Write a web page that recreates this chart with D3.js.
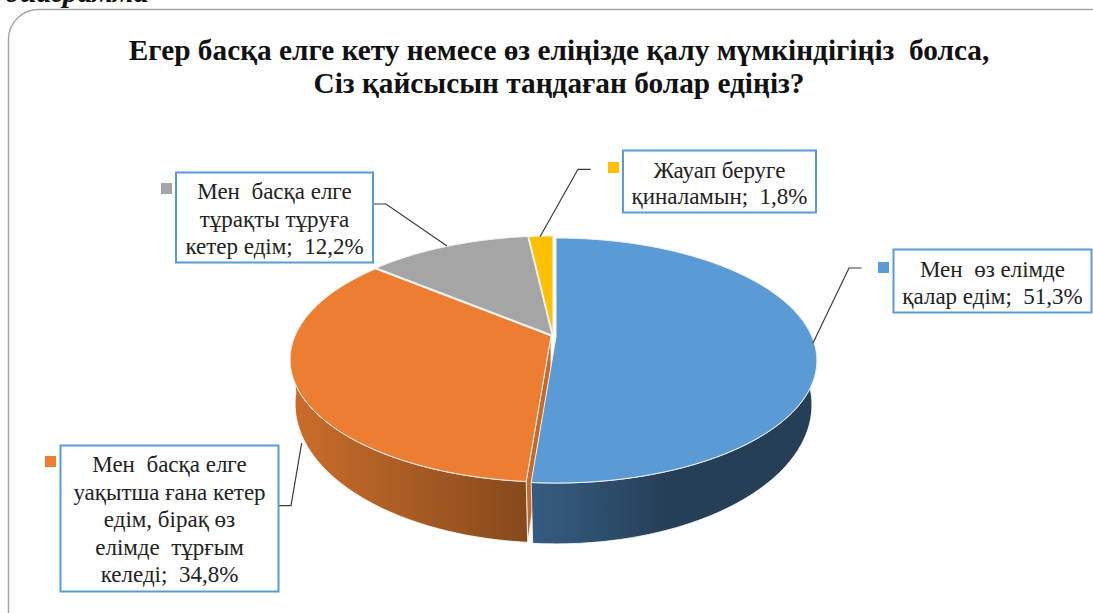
<!DOCTYPE html>
<html><head><meta charset="utf-8">
<script src="https://cdn.jsdelivr.net/npm/d3@7"></script>
<style>html,body{margin:0;padding:0;background:#fff;overflow:hidden}svg{display:block}text{font-family:"Liberation Serif",serif;white-space:pre}</style>
</head><body><svg id="c" width="1093" height="613"></svg>
<script>
const categories = ["Мен өз елімде қалар едім","Мен басқа елге уақытша ғана кетер едім, бірақ өз елімде тұрғым келеді","Мен басқа елге тұрақты тұруға кетер едім","Жауап беруге қиналамын"];
const values = [51.3,34.8,12.2,1.8];
const colors = ["#5b9bd5","#ed7d31","#a5a5a5","#ffc000"];
const labelLines = [
  ["Мен  өз елімде","қалар едім;  "],
  ["Мен  басқа елге","уақытша ғана кетер","едім, бірақ өз","елімде  тұрғым","келеді;  "],
  ["Мен  басқа елге","тұрақты тұруға","кетер едім;  "],
  ["Жауап беруге","қиналамын;  "]
];
const titleLines = ["Егер басқа елге кету немесе өз еліңізде қалу мүмкіндігіңіз  болса,","Сіз қайсысын таңдаған болар едіңіз?"];

const W=1093,H=613, svg=d3.select("#c");
const fmt=v=>String(v).replace(".",",")+"%";

// frame and clipped caption above it
svg.append("text").attr("x",5).attr("y",2).attr("font-size",30).attr("font-weight","bold").attr("font-style","italic").attr("fill","#111").text("диаграмма");
svg.append("rect").attr("x",8.5).attr("y",9.5).attr("width",1120).attr("height",640).attr("rx",30).attr("fill","#fff").attr("stroke","#a6a6a6").attr("stroke-width",1.5);

// title
svg.append("g").selectAll("text").data(titleLines).join("text")
  .attr("x",559).attr("y",(d,i)=>60+i*33).attr("text-anchor","middle")
  .attr("font-size",29.3).attr("font-weight","bold").attr("fill","#111").text(d=>d);

// pie geometry: perspective projection of a circle, top rim and bottom rim
const pie=d3.pie().sort(null).startAngle(0).endAngle(2*Math.PI).value(d=>d);
const arcs=pie(values);
const offs=[[3,2],[-2,1],[-1,0],[0,0]];
const topP={cx:553,cy:335,rx:256,k:118,p:0.192}, botP={cx:553,cy:382,rx:253,k:135.9,p:0.15};
const proj=(P,th,o,r=1)=>{const u=r*Math.sin(th),v=-r*Math.cos(th),w=1-P.p*v;
  return [P.cx+o[0]+P.rx*u/w, P.cy+o[1]+P.k*v/w];};
const line=d3.line();
const rim=(P,a,b,o)=>{const n=Math.max(2,Math.ceil(Math.abs(b-a)*60));
  return d3.range(n+1).map(i=>proj(P,a+(b-a)*i/n,o));};

const defs=svg.append("defs");
const grad=(id,x1,x2,stops)=>{const g=defs.append("linearGradient").attr("id",id).attr("gradientUnits","userSpaceOnUse")
  .attr("x1",x1).attr("x2",x2).attr("y1",0).attr("y2",0);
  stops.forEach(s=>g.append("stop").attr("offset",s[0]).attr("stop-color",s[1]));};
grad("gB",531,815,[[0,"#375c82"],[0.5,"#243f56"],[1,"#243f56"]]);
grad("gO",292,526,[[0,"#cb6d2b"],[1,"#864a1b"]]);

const g=svg.append("g");
// orange radial cut
const e=arcs[0].endAngle;
g.append("path").attr("d",line([[topP.cx+offs[1][0],topP.cy+offs[1][1]],proj(topP,e,offs[1]),proj(botP,e,offs[1]),[botP.cx+offs[1][0],botP.cy+offs[1][1]]])+"Z")
  .attr("fill","#c8692a").attr("stroke","#fff").attr("stroke-width",0.8);
// walls
const wall=(a,b,o,fill)=>g.append("path").attr("d",line(rim(topP,a,b,o).concat(rim(botP,b,a,o)))+"Z")
  .attr("fill",fill).attr("stroke","#fff").attr("stroke-width",0.8);
wall(arcs[1].startAngle,arcs[1].startAngle+1.42,offs[1],"url(#gO)");
wall(1.48,e,offs[0],"url(#gB)");
// top faces
[2,3,1,0].forEach(i=>{const a=arcs[i],o=offs[i];
  const c=[topP.cx+o[0],topP.cy+o[1]];
  g.append("path").attr("d",line([c].concat(rim(topP,a.startAngle,a.endAngle,o)))+"Z")
   .attr("fill",colors[i]).attr("stroke","#f2f2f2").attr("stroke-width",1).attr("stroke-linejoin","round");
});

// leader lines
const leaders=[
  [[861.7,268],[849,268],[813,343]],
  [[279,505.7],[291,505.7],[301.7,443]],
  [[373,204],[386,204],[447,246]],
  [[590.7,169.3],[578,169.3],[540,236.7]]
];
svg.append("g").selectAll("path").data(leaders).join("path").attr("d",d=>line(d))
  .attr("fill","none").attr("stroke","#3a3a3a").attr("stroke-width",1.2);

// label boxes
const boxes=[
  {x:893.5,y:249.5,w:198,h:63,kx:878,ky:262,ty:277,lh:27},
  {x:60.5,y:445.5,w:218,h:146,kx:45,ky:456,ty:472,lh:27.6},
  {x:176,y:172.5,w:197,h:90,kx:161,ky:183,ty:199,lh:27.5},
  {x:623,y:150.5,w:193,h:62,kx:608,ky:162,ty:177.5,lh:26.5}
];
const lab=svg.append("g").selectAll("g").data(boxes).join("g");
lab.append("rect").attr("x",d=>d.x).attr("y",d=>d.y).attr("width",d=>d.w).attr("height",d=>d.h)
  .attr("fill","#fff").attr("stroke","#5b9bd5").attr("stroke-width",2);
lab.append("rect").attr("x",d=>d.kx).attr("y",d=>d.ky).attr("width",11).attr("height",11).attr("fill",(d,i)=>colors[i]);
lab.each(function(d,i){
  const ls=labelLines[i];
  d3.select(this).selectAll("text").data(ls).join("text")
    .attr("x",d.x+d.w/2).attr("y",(t,j)=>d.ty+j*d.lh).attr("text-anchor","middle")
    .attr("font-size",23).attr("fill","#222")
    .text((t,j)=>j===ls.length-1?t+fmt(values[i]):t);
});
</script></body></html>
